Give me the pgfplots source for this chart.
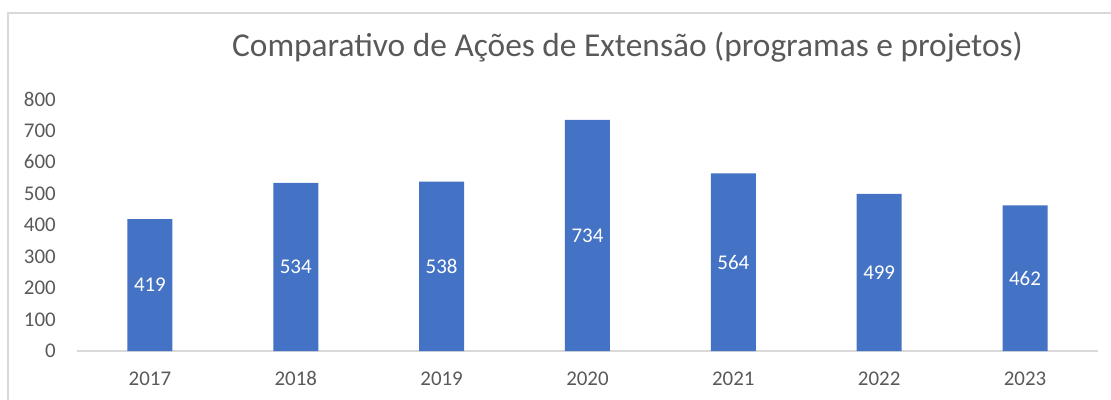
\documentclass[border=0pt]{standalone}
\usepackage{fontspec}
\setmainfont{Carlito}
\usepackage{pgfplots}
\pgfplotsset{compat=1.18}
\definecolor{barblue}{HTML}{4472C4}
\definecolor{txtgray}{HTML}{595959}
\definecolor{linegray}{HTML}{D9D9D9}
\begin{document}
\begin{tikzpicture}
\useasboundingbox (0bp,0bp) rectangle (1111bp,400bp);
\draw[linegray, line width=1.2bp] (8bp,-5bp) -- (8bp,387bp) -- (1116bp,387bp);
\node[txtgray, font=\fontsize{33.5}{38}\selectfont, anchor=center, inner sep=0pt] at (627.5bp,353bp) {Comparativo de Ações de Extensão (programas e projetos)};
\begin{axis}[
  at={(77bp,49bp)}, anchor=south west,
  scale only axis, width=1021bp, height=252bp,
  ybar=0pt, bar width=45bp,
  xmin=-0.5, xmax=6.5, ymin=0, ymax=800,
  xtick={0,1,2,3,4,5,6},
  xticklabels={2017,2018,2019,2020,2021,2022,2023},
  ytick={0,100,...,800},
  major tick length=0pt,
  axis x line*=bottom, axis y line*=left,
  y axis line style={draw=none},
  x axis line style={draw=linegray, line width=1.2bp},
  tick label style={text=txtgray, font=\fontsize{21}{24}\selectfont},
  /pgf/number format/assume math mode=true,
  yticklabel style={anchor=east, inner sep=0pt, xshift=-21bp},
  xticklabel style={anchor=base, inner sep=0pt, yshift=-34bp},
  nodes near coords,
  visualization depends on={y \as \rawy},
  every node near coord/.append style={text=white, font=\fontsize{21}{24}\selectfont, anchor=center, inner sep=0pt, yshift={-0.1575*\rawy bp}},
]
\addplot[fill=barblue, draw=none] coordinates {(0,419) (1,534) (2,538) (3,734) (4,564) (5,499) (6,462)};
\end{axis}
\end{tikzpicture}
\end{document}
